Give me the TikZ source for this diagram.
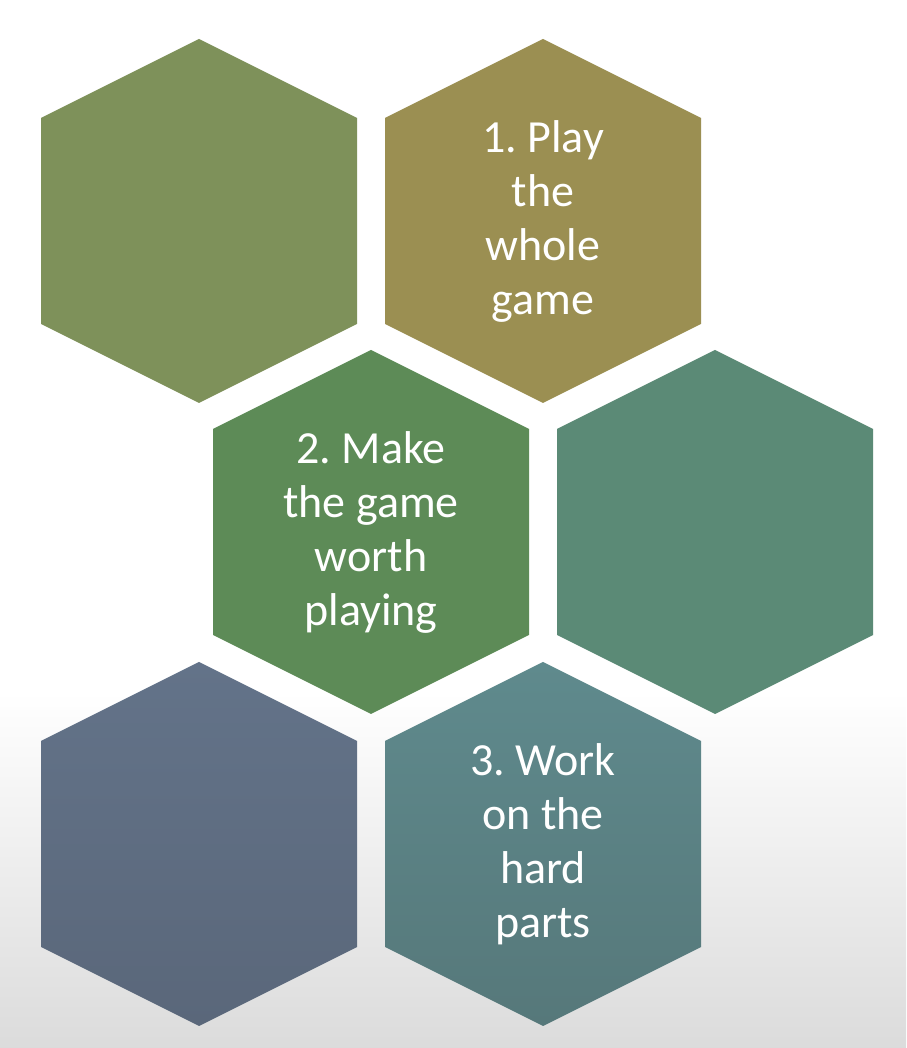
\documentclass[tikz,border=0pt]{standalone}
\usepackage{fontspec}
\setmainfont{Carlito}
\usetikzlibrary{positioning}

\definecolor{hexolive}{HTML}{7E915A}
\definecolor{hexgold}{HTML}{9B8F52}
\definecolor{hexgreen}{HTML}{5D8B57}
\definecolor{hexsea}{HTML}{5B8A76}
\definecolor{hexslatetop}{HTML}{637389}
\definecolor{hexslatebot}{HTML}{5A677A}
\definecolor{hextealtop}{HTML}{5F8A8D}
\definecolor{hextealbot}{HTML}{56787A}

\pgfdeclareverticalshading{backfade}{100bp}{color(0bp)=(black!15); color(25bp)=(black!14);
  color(42bp)=(white); color(100bp)=(white)}

% hexagon round a named centre: #1 centre, #2 fill options
\newcommand{\hexcell}[2]{\path[#2] (#1) ++(0,182) -- ++(158,-79) -- ++(0,-206)
  -- ++(-158,-79) -- ++(-158,79) -- ++(0,206) -- cycle;}

\begin{document}
\begin{tikzpicture}[x=0.75pt,y=0.75pt,
                    caption/.style={text=white,align=center,inner sep=0pt,
                      font=\fontsize{34.5}{40.5}\selectfont\frenchspacing}]
  \path[shading=backfade] (0,0) rectangle (906,1048);
  \useasboundingbox (0,0) rectangle (906,1048);

  \coordinate (A) at (199,827);
  \coordinate (B) at (543,827);
  \coordinate (C) at (371,516);
  \coordinate (D) at (715,516);
  \coordinate (E) at (199,204);
  \coordinate (F) at (543,204);

  \hexcell{A}{fill=hexolive}
  \hexcell{B}{fill=hexgold}
  \hexcell{C}{fill=hexgreen}
  \hexcell{D}{fill=hexsea}
  \hexcell{E}{top color=hexslatetop,bottom color=hexslatebot}
  \hexcell{F}{top color=hextealtop,bottom color=hextealbot}

  \node[caption] (play) at (B) {1. Play\\the\\whole\\game};
  \node[caption] (make) at (C) {2. Make\\the game\\worth\\playing};
  \node[caption] (work) at (F) {3. Work\\on the\\hard\\parts};

\end{tikzpicture}
\end{document}
